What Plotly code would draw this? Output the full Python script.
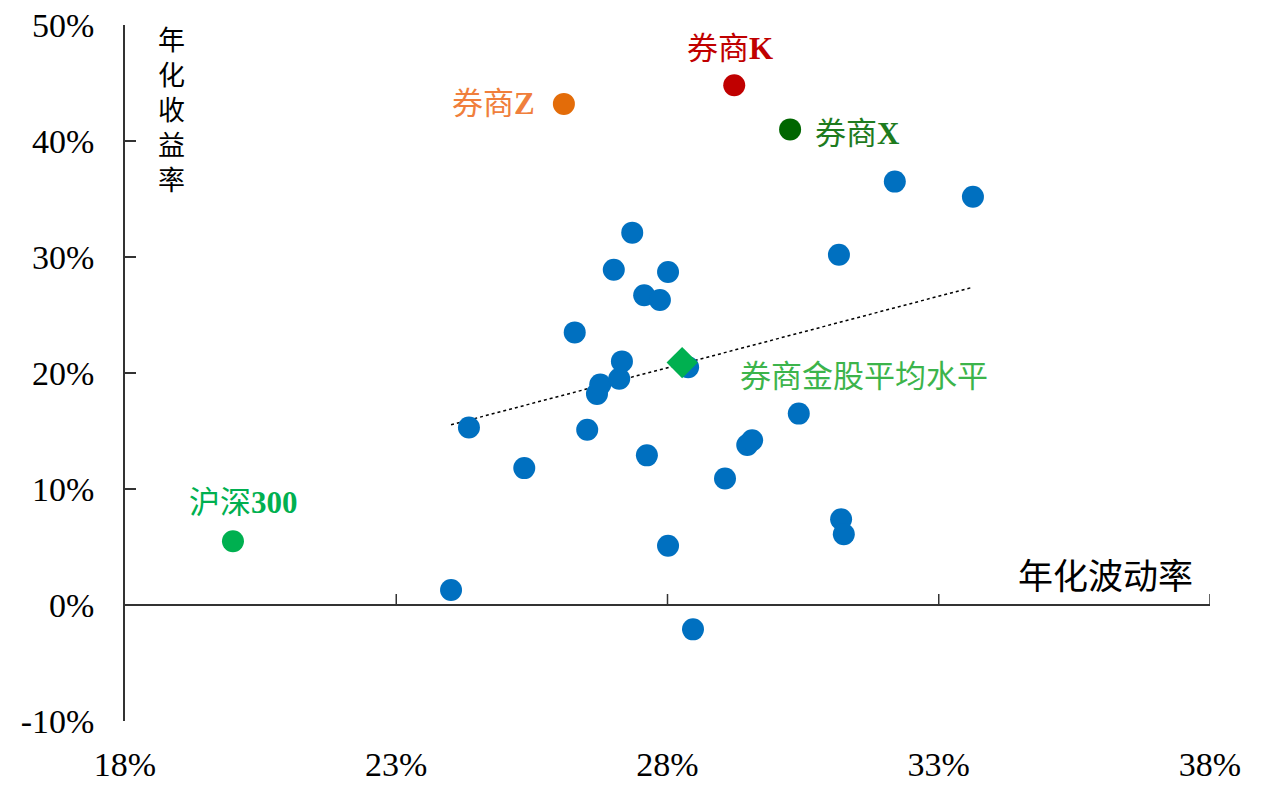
import numpy as np
import plotly.graph_objects as go

# 券商金股 (annualised volatility, annualised return)
stock_vol = [0.2401, 0.2434, 0.2536, 0.2629, 0.2652, 0.2670, 0.2676, 0.2701,
             0.2711, 0.2716, 0.2735, 0.2757, 0.2762, 0.2786, 0.2801, 0.2801,
             0.2838, 0.2847, 0.2906, 0.2947, 0.2956, 0.3042, 0.3116, 0.3120,
             0.3125, 0.3219, 0.3363]
stock_ret = [0.013, 0.153, 0.118, 0.235, 0.151, 0.182, 0.190, 0.289,
             0.195, 0.210, 0.321, 0.267, 0.129, 0.263, 0.287, 0.051,
             0.205, -0.021, 0.109, 0.138, 0.142, 0.165, 0.302, 0.074,
             0.061, 0.365, 0.352]

# highlighted brokers
broker_names = ['券商Z', '券商K', '券商X']
broker_vol = [0.2609, 0.2923, 0.3026]
broker_ret = [0.432, 0.448, 0.410]
broker_colors = ['#E36C09', '#C00000', '#006600']
broker_text_colors = ['#F07F3C', '#C00000', '#1E7B1E']

hs300_vol = [0.1999]
hs300_ret = [0.055]

avg_vol = [0.2827]
avg_ret = [0.209]

x_ticks = [0.18, 0.23, 0.28, 0.33, 0.38]
x_tick_text = ['18%', '23%', '28%', '33%', '38%']
y_ticks = [-0.1, 0.0, 0.1, 0.2, 0.3, 0.4, 0.5]
y_tick_text = ['-10%', '0%', '10%', '20%', '30%', '40%', '50%']

serif = 'Liberation Serif, Times New Roman, serif'
cjk = 'Noto Sans CJK SC, sans-serif'
mixed = 'Liberation Serif, Noto Sans CJK SC, serif'

fig = go.Figure()

# linear trend over all broker picks
all_vol = stock_vol + broker_vol
all_ret = stock_ret + broker_ret
slope, intercept = np.polyfit(all_vol, all_ret, 1)
trend_x = [min(all_vol), max(all_vol)]
fig.add_trace(go.Scatter(
    x=trend_x, y=[slope * v + intercept for v in trend_x],
    mode='lines', line=dict(color='black', width=1.5, dash='dot'),
    hoverinfo='skip',
))

fig.add_trace(go.Scatter(
    x=stock_vol, y=stock_ret, mode='markers',
    marker=dict(size=22, color='#0070C0'),
))

fig.add_trace(go.Scatter(
    x=broker_vol, y=broker_ret, mode='markers',
    marker=dict(size=22, color=broker_colors),
))

fig.add_trace(go.Scatter(
    x=hs300_vol, y=hs300_ret, mode='markers',
    marker=dict(size=22, color='#00B050'),
))

fig.add_trace(go.Scatter(
    x=avg_vol, y=avg_ret, mode='markers',
    marker=dict(size=24, color='#00B050', symbol='diamond'),
))

# x ticks sit on the zero line, pointing up
for v in x_ticks[1:]:
    fig.add_shape(type='line', xref='x', yref='y', x0=v, x1=v,
                  ysizemode='pixel', yanchor=0, y0=0, y1=11,
                  line=dict(color='#333', width=1.5))

# point labels
label_offsets = [dict(xanchor='right', xshift=-27, yshift=0),
                 dict(xanchor='center', xshift=-4, yshift=37),
                 dict(xanchor='left', xshift=23, yshift=-4)]
for name, vx, vy, col, off in zip(broker_names, broker_vol, broker_ret,
                                  broker_text_colors, label_offsets):
    head, tail = name[:2], name[2:]
    fig.add_annotation(x=vx, y=vy, showarrow=False,
                       text=f'{head}<b>{tail}</b>',
                       font=dict(family=mixed, size=31, color=col), **off)

fig.add_annotation(x=hs300_vol[0], y=hs300_ret[0], showarrow=False,
                   text='沪深<b>300</b>', xshift=11, yshift=39,
                   font=dict(family=mixed, size=31, color='#00B050'))
fig.add_annotation(x=avg_vol[0], y=avg_ret[0], showarrow=False,
                   text='券商金股平均水平', xanchor='left', xshift=56, yshift=-11,
                   font=dict(family=cjk, size=31, color='#3CB44B'))

# axis titles
fig.add_annotation(xref='paper', yref='paper', x=0.043, y=1.0,
                   xanchor='center', yanchor='top', yshift=8,
                   showarrow=False, text='<br>'.join('年化收益率'),
                   font=dict(family=cjk, size=27, color='black'))
fig.add_annotation(xref='paper', yref='y', x=0.986, y=0.0,
                   xanchor='right', yanchor='bottom', yshift=4, showarrow=False,
                   text='年化波动率',
                   font=dict(family=cjk, size=35, color='black'))

# page body adds an 8px offset, so the figure is drawn 16px smaller
fig.update_layout(
    width=1271, height=779,
    margin=dict(l=117, r=69, t=17, b=66),
    paper_bgcolor='white', plot_bgcolor='white',
    showlegend=False,
    xaxis=dict(range=[0.18, 0.38], tickvals=x_ticks, ticktext=x_tick_text,
               showgrid=False, zeroline=False, showline=False, ticks='',
               ticklabelstandoff=20, automargin=False,
               ticklabeloverflow='allow',
               tickfont=dict(family=serif, size=34, color='black')),
    yaxis=dict(range=[-0.1, 0.5], tickvals=y_ticks, ticktext=y_tick_text,
               showgrid=False, zeroline=True, zerolinecolor='#333',
               zerolinewidth=1.5, showline=True, linecolor='#333', linewidth=1.5,
               ticks='inside', ticklen=11, tickcolor='#333', tickwidth=1.5,
               ticklabelstandoff=22, automargin=False,
               ticklabeloverflow='allow',
               tickfont=dict(family=serif, size=34, color='black')),
)

fig.write_html("out.html")
